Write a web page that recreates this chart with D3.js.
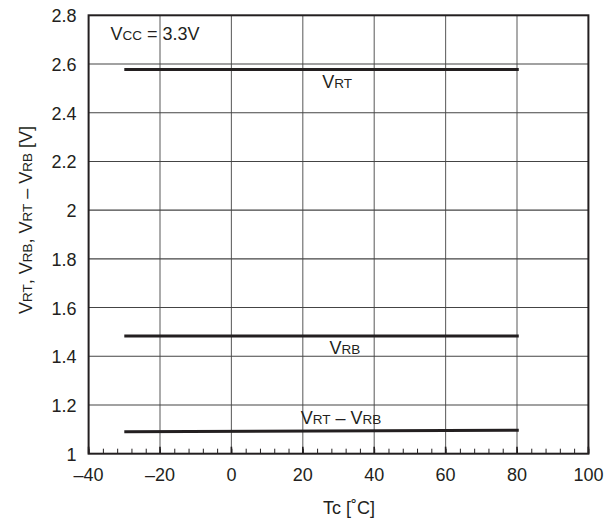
<!DOCTYPE html>
<html>
<head>
<meta charset="utf-8">
<script src="https://cdn.jsdelivr.net/npm/d3@7"></script>
<style>
  html, body { margin: 0; padding: 0; background: #fff; }
  svg { display: block; }
  text { font-family: "Liberation Sans", Arial, Helvetica, sans-serif; fill: #231f20; }
</style>
</head>
<body>
<svg id="chart" width="608" height="521"></svg>
<script>
// ---- data ----
const xTicks = [-40, -20, 0, 20, 40, 60, 80, 100];
const yTicks = [1, 1.2, 1.4, 1.6, 1.8, 2, 2.2, 2.4, 2.6, 2.8];
const yTickLabels = ["1", "1.2", "1.4", "1.6", "1.8", "2", "2.2", "2.4", "2.6", "2.8"];
const xMinorTicks = d3.range(-40, 100.1, 4);
const temps = [-30, 80.5];
const vrt = [2.577, 2.577];
const vrb = [1.483, 1.483];
const vdiff = [1.090, 1.096];
const seriesNames = [["V", "RT"], ["V", "RB"], ["V", "RT", " \u2013 ", "V", "RB"]];
const labelPos = [[29.6, 2.502], [31.8, 1.41], [30.7, 1.12]];

// ---- layout ----
const svg = d3.select("#chart");
const L = 88.6, R = 588.4, T = 15.3, B = 453.7;
const x = d3.scaleLinear().domain([-40, 100]).range([L, R]);
const y = d3.scaleLinear().domain([1, 2.8]).range([B, T]);
const ink = "#231f20";
const big = 18, small = 13.5;

// gridlines
svg.append("g").selectAll("line").data(xTicks.slice(1, -1)).join("line")
  .attr("x1", d => x(d)).attr("x2", d => x(d)).attr("y1", T).attr("y2", B)
  .attr("stroke", "#666").attr("stroke-width", 1.1);
svg.append("g").selectAll("line").data(yTicks.slice(1, -1)).join("line")
  .attr("x1", L).attr("x2", R).attr("y1", d => y(d)).attr("y2", d => y(d))
  .attr("stroke", "#444").attr("stroke-width", 1.1);

// minor ticks on x axis (inward)
const xAxis = d3.axisBottom(x).tickValues(xMinorTicks).tickSize(-5).tickFormat("");
const gx = svg.append("g").attr("transform", `translate(0,${B})`).call(xAxis);
gx.select(".domain").remove();
gx.selectAll(".tick line").attr("stroke", ink).attr("stroke-width", 1);
// major ticks darker
svg.append("g").selectAll("line").data(xTicks).join("line")
  .attr("x1", d => x(d)).attr("x2", d => x(d)).attr("y1", B).attr("y2", B - 7)
  .attr("stroke", ink).attr("stroke-width", 1.6);

// frame
svg.append("rect").attr("x", L).attr("y", T).attr("width", R - L).attr("height", B - T)
  .attr("fill", "none").attr("stroke", ink).attr("stroke-width", 2);

// tick labels
svg.append("g").selectAll("text").data(xTicks).join("text")
  .attr("x", d => x(d)).attr("y", B + 27).attr("text-anchor", "middle")
  .attr("font-size", big)
  .text(d => d < 0 ? "\u2013" + Math.abs(d) : String(d));
svg.append("g").selectAll("text").data(yTicks).join("text")
  .attr("x", L - 12).attr("y", d => y(d) + 7).attr("text-anchor", "end")
  .attr("font-size", big)
  .text((d, i) => yTickLabels[i]);

// data lines
const line = d3.line().x(d => x(d[0])).y(d => y(d[1]));
[vrt, vrb, vdiff].forEach(s => {
  svg.append("path").datum(temps.map((t, i) => [t, s[i]]))
    .attr("d", line).attr("fill", "none").attr("stroke", ink).attr("stroke-width", 3);
});

// helper for texts with small-caps subscripts
function richText(g, parts, bigSize, smallSize) {
  parts.forEach(p => {
    const isSub = /^[A-Z]{2}$/.test(p);
    g.append("tspan").attr("font-size", isSub ? smallSize : bigSize).text(p);
  });
}

// series labels
seriesNames.forEach((parts, i) => {
  const t = svg.append("text").attr("x", x(labelPos[i][0])).attr("y", y(labelPos[i][1]))
    .attr("text-anchor", "middle").attr("font-size", big);
  richText(t, parts, big, small);
});

// Vcc annotation
const vcc = svg.append("text").attr("x", 110.5).attr("y", 39.5).attr("font-size", big);
richText(vcc, ["V", "CC", " = 3.3V"], big, small);

// axis titles
svg.append("text").attr("x", 349).attr("y", 514).attr("text-anchor", "middle")
  .attr("font-size", big).text("Tc [\u02daC]");
const yt = svg.append("text").attr("transform", `translate(32,220) rotate(-90)`)
  .attr("text-anchor", "middle").attr("font-size", 18);
richText(yt, ["V", "RT", ", ", "V", "RB", ", ", "V", "RT", " \u2013 ", "V", "RB", " [V]"], 18, 13.5);
</script>
</body>
</html>
